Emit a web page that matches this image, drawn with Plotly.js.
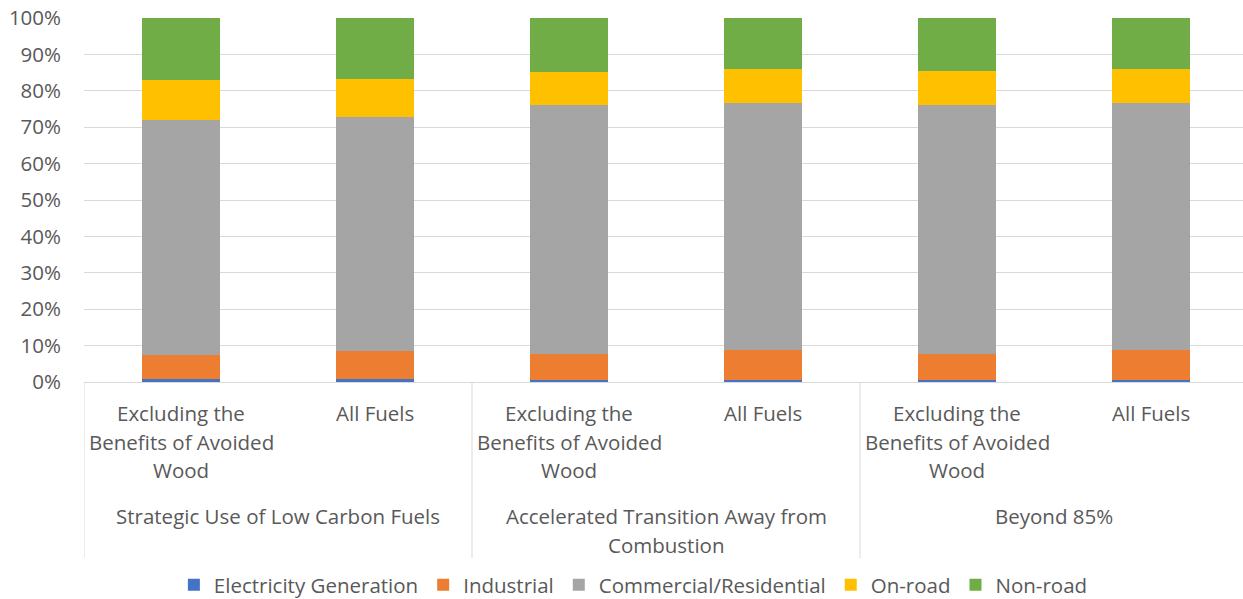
<!DOCTYPE html>
<html><head><meta charset="utf-8">
<script src="https://cdn.plot.ly/plotly-3.0.1.min.js"></script>
<style>html,body{margin:0;padding:0;background:#fff;overflow:hidden}</style>
</head><body><div id="chart" style="width:1243px;height:599px"></div>
<script>
const scenarios = ["Strategic Use of Low Carbon Fuels","Strategic Use of Low Carbon Fuels","Accelerated Transition Away from<br>Combustion","Accelerated Transition Away from<br>Combustion","Beyond 85%","Beyond 85%"];
const variants = ["Excluding the<br>Benefits of Avoided<br>Wood","All Fuels","Excluding the<br>Benefits of Avoided<br>Wood","All Fuels","Excluding the<br>Benefits of Avoided<br>Wood","All Fuels"];
const electricity = [0.9, 0.9, 0.6, 0.6, 0.6, 0.6];
const industrial = [6.4, 7.5, 7.2, 8.1, 7.2, 8.1];
const commercial = [64.6, 64.4, 68.3, 68.0, 68.3, 68.0];
const onroad = [11.1, 10.4, 9.1, 9.2, 9.4, 9.2];
const nonroad = [17.0, 16.8, 14.8, 14.1, 14.5, 14.1];
const seriesNames = ["Electricity Generation","Industrial","Commercial/Residential","On-road","Non-road"];
const seriesValues = [electricity, industrial, commercial, onroad, nonroad];
const colors = ["#4472C4","#ED7D31","#A5A5A5","#FFC000","#70AD47"];

const cats = scenarios.map((s,i)=>s+' | '+variants[i]);
const traces = seriesNames.map((n,i)=>({
  type:'bar', name:n, x:cats, y:seriesValues[i],
  marker:{color:colors[i], line:{width:0}}, hoverinfo:'y+name'
}));

const FONT = 'Open Sans, Lato, sans-serif';
const font = {family:FONT, size:20.5, color:'#595959'};
const plotTop = 18, plotBot = 382, plotH = plotBot - plotTop;
const py = p => (plotBot - p) / plotH;

const annotations = [];
const subLineY = [413, 442, 470];
variants.forEach((v,i)=>{
  v.split('<br>').forEach((line,k)=>{
    annotations.push({xref:'x', yref:'paper', x:cats[i], y:py(subLineY[k]), text:line,
      showarrow:false, xanchor:'center', yanchor:'middle', font:font});
  });
});
const groupLineY = [516, 545];
const groups = [...new Set(scenarios)];
groups.forEach(g=>{
  const idx = scenarios.map((s,i)=>s===g?i:-1).filter(i=>i>=0);
  const mid = (idx[0]+idx[idx.length-1])/2;
  g.split('<br>').forEach((line,k)=>{
    annotations.push({xref:'x', yref:'paper', x:mid, y:py(groupLineY[k]), text:line,
      showarrow:false, xanchor:'center', yanchor:'middle', font:font});
  });
});
const shapes = [];
const bounds = [-0.5];
groups.forEach(g=>{ bounds.push(scenarios.lastIndexOf(g)+0.5); });
bounds.forEach(b=>{
  shapes.push({type:'line', xref:'x', yref:'paper', x0:b, x1:b, y0:0, y1:py(558), line:{color:'#d9d9d9', width:1}});
});

const layout = {
  width:1243, height:599, barmode:'stack', bargap:0.6,
  margin:{l:84, r:0, t:plotTop, b:599-plotBot, autoexpand:false},
  paper_bgcolor:'#fff', plot_bgcolor:'#fff', font:font,
  showlegend:true,
  legend:{orientation:'h', x:0.474, xanchor:'center', xref:'paper', y:py(585), yanchor:'middle', font:font, traceorder:'normal', itemwidth:30},
  xaxis:{type:'category', range:[-0.5, 5.474], showticklabels:false, showgrid:false, showline:true, linecolor:'#d9d9d9', linewidth:1, ticks:'', automargin:false, fixedrange:true},
  yaxis:{range:[0,100], dtick:10, ticksuffix:'%', showgrid:true, gridcolor:'#d9d9d9', gridwidth:1,
    zeroline:false, showline:false, tickfont:font, ticklabelstandoff:22, automargin:false},
  annotations:annotations, shapes:shapes
};
Plotly.newPlot('chart', traces, layout, {displayModeBar:false, staticPlot:true});
</script></body></html>
